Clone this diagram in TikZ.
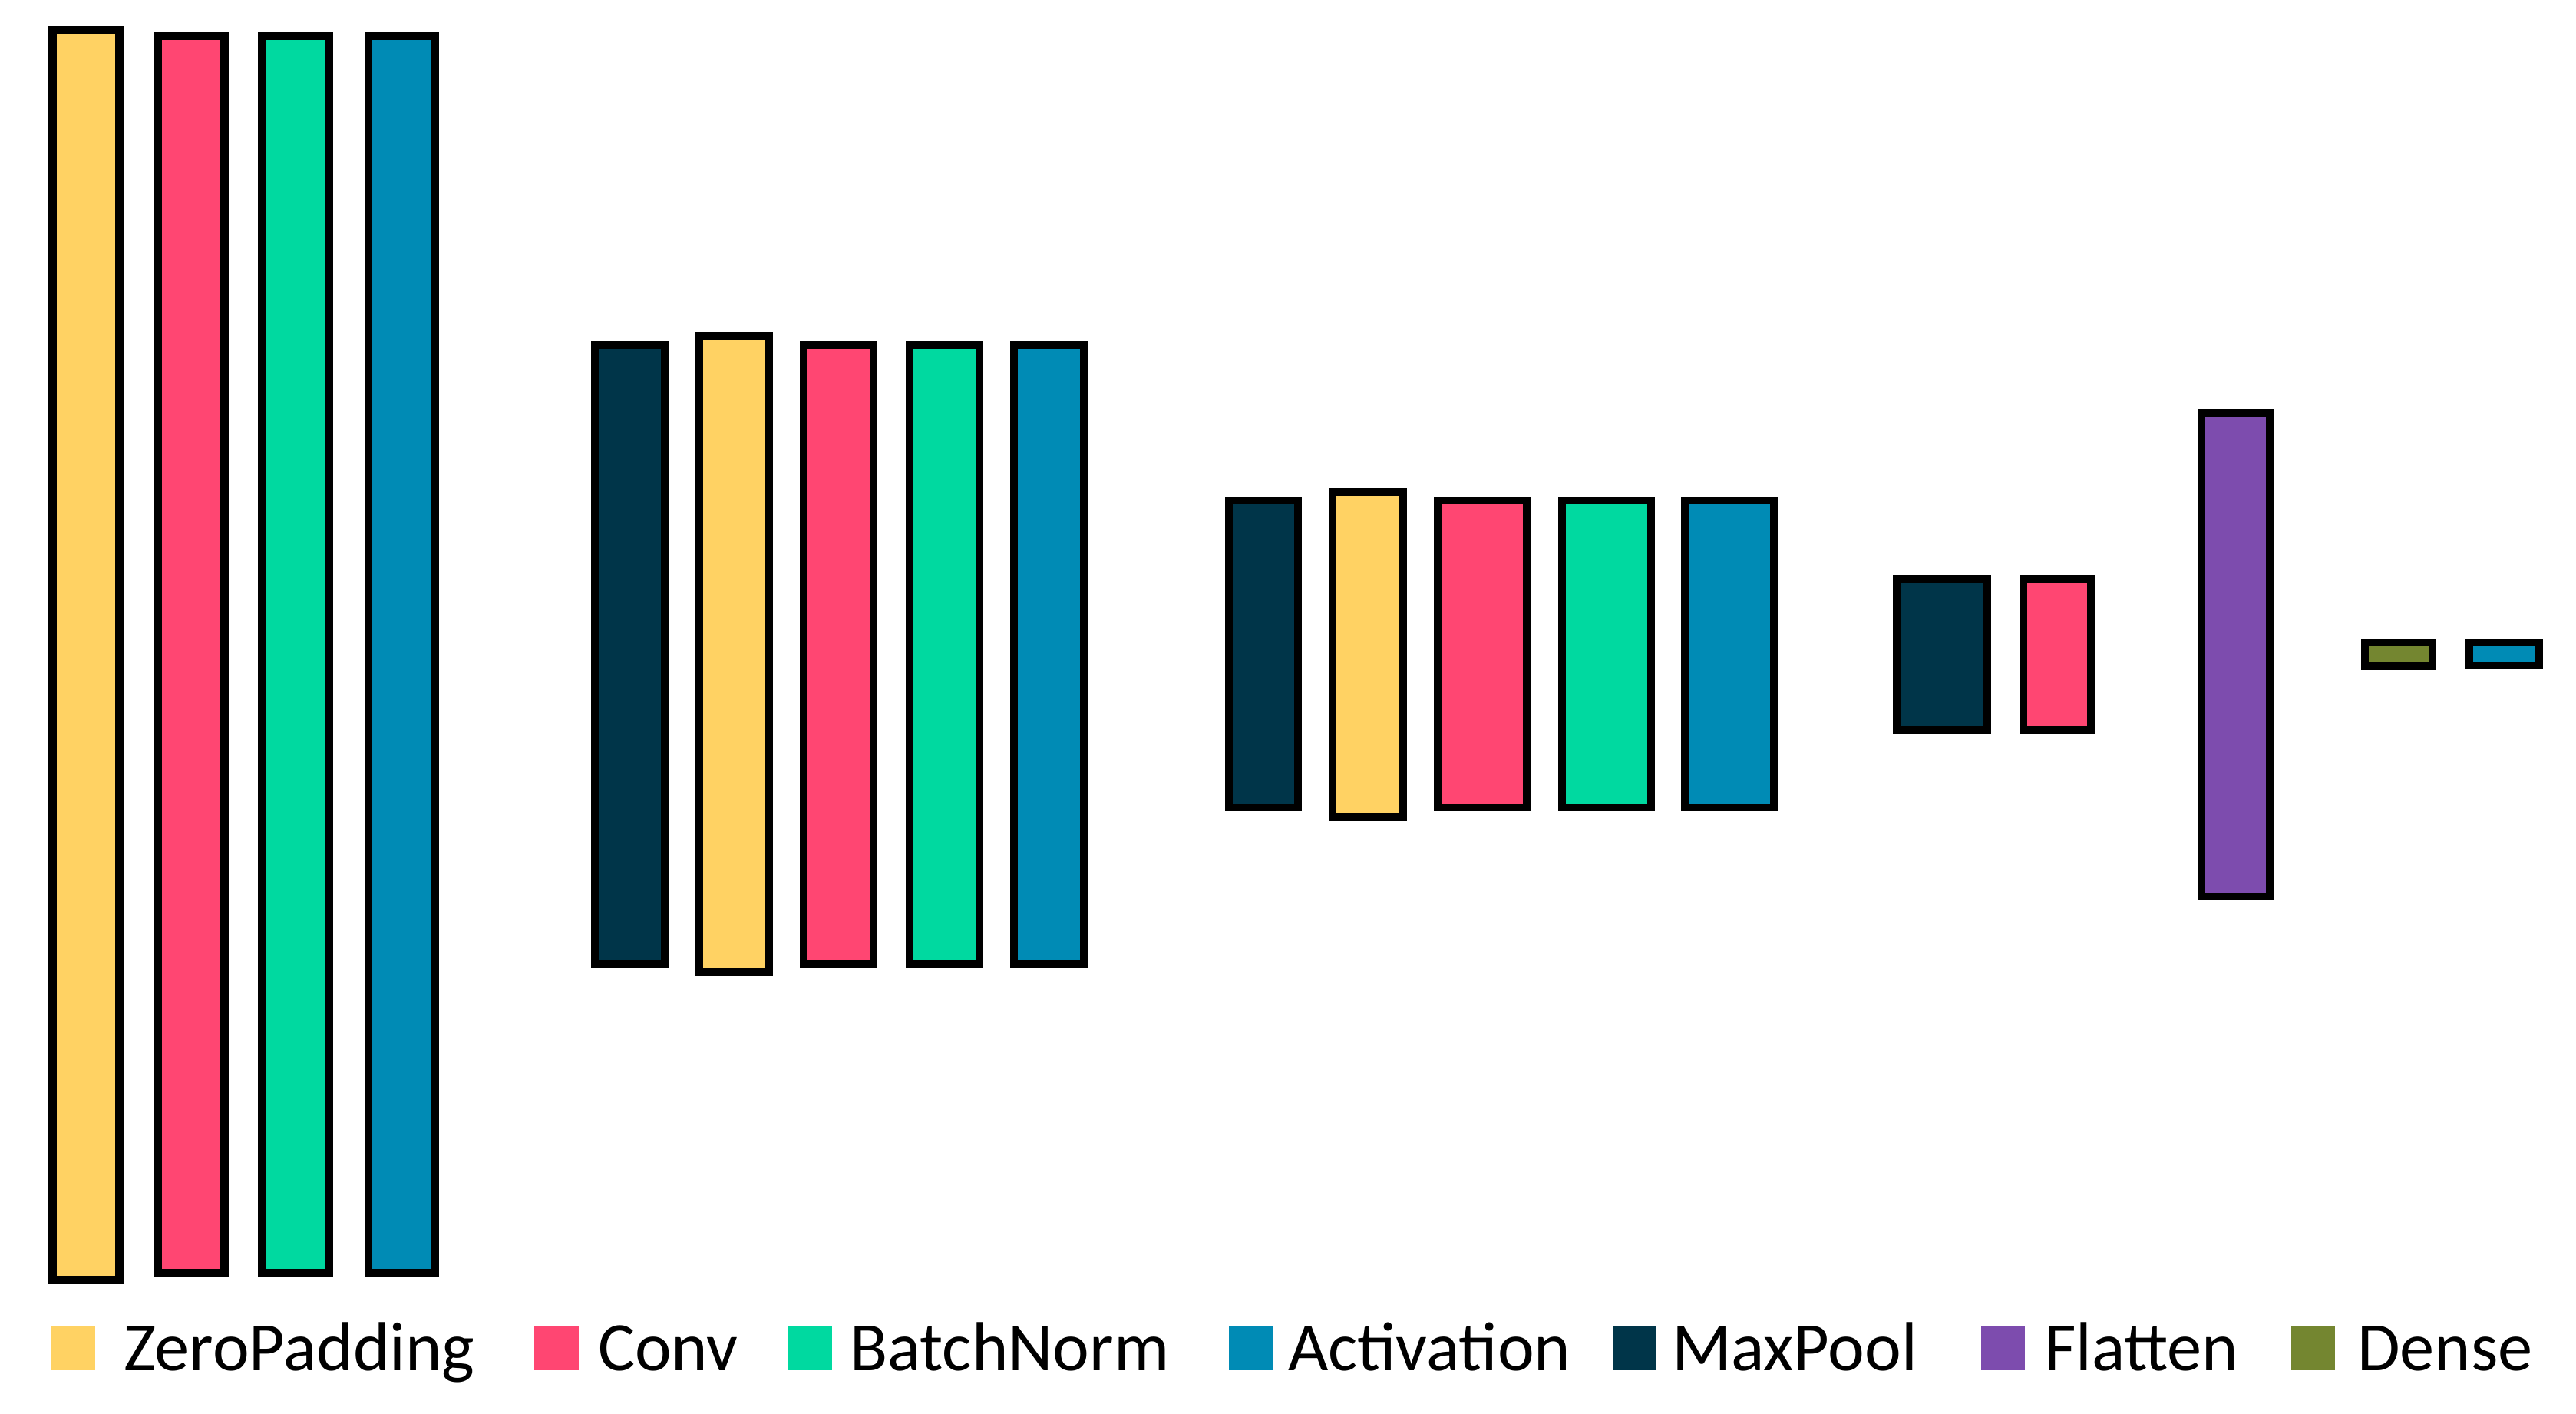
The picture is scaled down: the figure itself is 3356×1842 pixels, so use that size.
\documentclass[tikz,border=0pt]{standalone}
\usepackage{fontspec}
\setmainfont{Carlito}
\definecolor{zp}{HTML}{FFD263}
\definecolor{cv}{HTML}{FF4672}
\definecolor{bn}{HTML}{00D9A0}
\definecolor{ac}{HTML}{008BB5}
\definecolor{mp}{HTML}{003549}
\definecolor{fl}{HTML}{7D4CAE}
\definecolor{de}{HTML}{748630}
\begin{document}
\begin{tikzpicture}[x=0.01cm,y=-0.01cm,
  layer/.style n args={3}{draw=black, line width=0.1cm, fill=#1, inner sep=0pt, outer sep=0pt,
    minimum width=#2*0.01cm, minimum height=#3*0.01cm},
  keybox/.style={fill=#1, draw=none, inner sep=0pt, outer sep=0pt, minimum size=0.57cm},
  lbl/.style={anchor=base west, inner sep=0pt, outer sep=0pt, font=\fontsize{25.7pt}{31pt}\selectfont}]
\useasboundingbox (0,0) rectangle (3356,1842);
% stage 1
\node[layer={zp}{87}{1628}] (zp1) at (112,853) {};
\node[layer={cv}{87}{1611}] (cv1) at (249,852) {};
\node[layer={bn}{87}{1611}] (bn1) at (385,852) {};
\node[layer={ac}{87}{1611}] (ac1) at (523,852) {};
% stage 2
\node[layer={mp}{91}{807}] (mp2) at (820,852) {};
\node[layer={zp}{91}{828}] (zp2) at (956,852) {};
\node[layer={cv}{91}{807}] (cv2) at (1092,852) {};
\node[layer={bn}{91}{807}] (bn2) at (1230,852) {};
\node[layer={ac}{91}{807}] (ac2) at (1366,852) {};
% stage 3
\node[layer={mp}{90}{400}] (mp3) at (1646,852) {};
\node[layer={zp}{92}{423}] (zp3) at (1782,852) {};
\node[layer={cv}{116}{400}] (cv3) at (1931,852) {};
\node[layer={bn}{116}{400}] (bn3) at (2093,852) {};
\node[layer={ac}{116}{400}] (ac3) at (2253,852) {};
% stage 4
\node[layer={mp}{118}{197}] (mp4) at (2530,852) {};
\node[layer={cv}{88}{197}] (cv4) at (2680,852) {};
% flatten and dense
\node[layer={fl}{89}{630}] (fl) at (2912,853) {};
\node[layer={de}{88}{31}] (de) at (3125,852) {};
\node[layer={ac}{91}{30}] (ac5) at (3262,852) {};
% legend
\node[keybox=zp] (kzp) at (95,1756) {};
\node[lbl] (tzp) at (161,1785) {ZeroPadding};
\node[keybox=cv] (kcv) at (725,1756) {};
\node[lbl] (tcv) at (779,1785) {Conv};
\node[keybox=bn] (kbn) at (1055,1756) {};
\node[lbl] (tbn) at (1107,1785) {BatchNorm};
\node[keybox=ac] (kac) at (1630,1756) {};
\node[lbl] (tac) at (1678,1785) {Activation};
\node[keybox=mp] (kmp) at (2129,1756) {};
\node[lbl] (tmp) at (2178,1785) {MaxPool};
\node[keybox=fl] (kfl) at (2609,1756) {};
\node[lbl] (tfl) at (2663,1785) {Flatten};
\node[keybox=de] (kde) at (3013,1756) {};
\node[lbl] (tde) at (3071,1785) {Dense};
\end{tikzpicture}
\end{document}
